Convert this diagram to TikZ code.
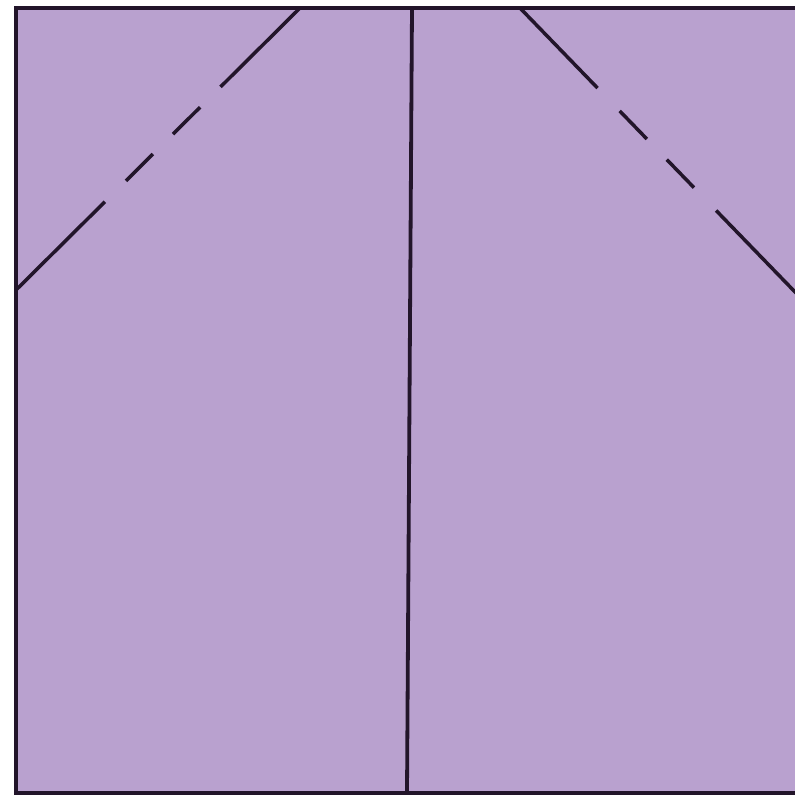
\documentclass[tikz,border=0pt]{standalone}
\usetikzlibrary{calc}
\definecolor{paper}{HTML}{B9A1CF}
\definecolor{ink}{HTML}{22152A}
\tikzset{
  edge/.style={draw=ink,line width=4pt},
  fold/.style={draw=ink,line width=3.5pt,line cap=butt}
}
\begin{document}
\begin{tikzpicture}[x=1pt,y=-1pt]
\useasboundingbox (0,0) rectangle (795,804);
\fill[white] (0,0) rectangle (795,804);
\clip (0,0) rectangle (795,804);
\coordinate (tl) at (16,8);
\coordinate (br) at (801,793);
\fill[paper] (tl) rectangle (br);
\draw[edge] (tl) rectangle (br);
% centre crease
\coordinate (ct) at (412,8);
\coordinate (cb) at (407,793);
\draw[edge,line width=3.8pt] (ct) -- (cb);
% left diagonal
\coordinate (la) at (300,8);
\coordinate (lb) at (16,290);
\draw[fold] (la) -- ($(la)!0.28!(lb)$);
\draw[fold] ($(la)!0.352!(lb)$) -- ($(la)!0.447!(lb)$);
\draw[fold] ($(la)!0.518!(lb)$) -- ($(la)!0.613!(lb)$);
\draw[fold] ($(la)!0.687!(lb)$) -- (lb);
% right diagonal
\coordinate (ra) at (520,8);
\coordinate (rb) at (797,294);
\draw[fold] (ra) -- ($(ra)!0.28!(rb)$);
\draw[fold] ($(ra)!0.36!(rb)$) -- ($(ra)!0.458!(rb)$);
\draw[fold] ($(ra)!0.53!(rb)$) -- ($(ra)!0.628!(rb)$);
\draw[fold] ($(ra)!0.708!(rb)$) -- (rb);
\end{tikzpicture}
\end{document}
